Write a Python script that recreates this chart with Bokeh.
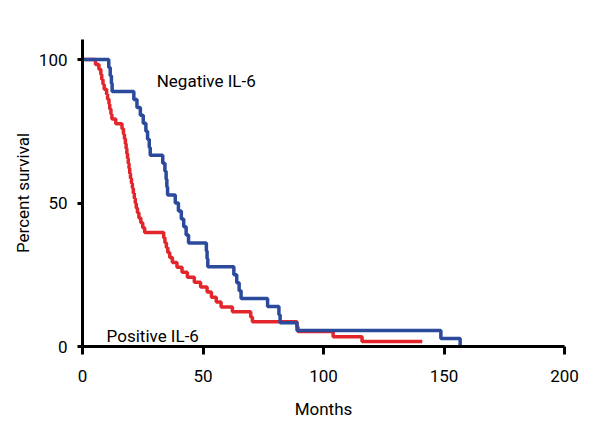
from bokeh.plotting import figure
from bokeh.models import Range1d, FixedTicker, Label
from bokeh.embed import file_html
from bokeh.resources import INLINE

# Kaplan-Meier estimates (months, percent survival)
neg_months = [0, 10.9, 11.5, 12.0, 12.3, 21.3, 22.6, 24.0, 25.2, 26.3, 27.0, 27.7, 28.1,
              33.3, 34.2, 34.7, 35.0, 35.3, 38.5, 39.8, 41.0, 42.0, 43.0, 44.0,
              51.4, 51.7, 52.0, 62.8, 64.0, 65.0, 65.8, 76.8, 81.5, 82.0, 89.0,
              148.7, 156.7]
neg_surv = [100, 97.2, 94.4, 91.7, 88.9, 86.1, 83.3, 80.6, 77.8, 75.0, 72.2, 69.4, 66.7,
            63.9, 61.1, 58.3, 55.6, 52.8, 50.0, 47.2, 44.4, 41.7, 38.9, 36.1,
            33.3, 30.6, 27.8, 25.0, 22.2, 19.4, 16.7, 13.9, 11.1, 8.3, 5.6,
            2.8, 0]

pos_months = [0, 5.4, 6.8, 7.6, 8.0, 8.5, 9.0, 10.0, 10.4, 11.0, 11.3, 11.8, 12.2, 13.8,
              16.4, 17.0, 17.4, 17.8, 18.1, 18.4, 18.7, 19.0, 19.3, 19.6, 19.9, 20.3,
              20.7, 21.1, 21.5, 21.9, 22.3, 22.8, 23.4, 24.2, 25.0, 25.8,
              33.7, 34.2, 34.8, 35.4, 36.2, 37.3, 39.2, 41.3, 43.5, 46.4, 49.0,
              51.7, 53.5, 55.5, 57.5, 62.2, 69.8, 70.5, 89.0, 89.4, 104.0, 116.0, 141.0]
pos_surv = [100, 98.3, 96.6, 94.8, 93.1, 91.4, 89.7, 87.9, 86.2, 84.5, 82.8, 81.0, 79.3, 77.6,
            75.9, 74.1, 72.4, 70.7, 69.0, 67.2, 65.5, 63.8, 62.1, 60.3, 58.6, 56.9,
            55.2, 53.4, 51.7, 50.0, 48.3, 46.6, 44.8, 43.1, 41.4, 39.7,
            37.9, 36.2, 34.5, 32.8, 31.0, 29.3, 27.6, 25.9, 24.1, 22.4, 20.7,
            19.0, 17.2, 15.5, 13.8, 12.1, 10.3, 8.6, 6.9, 5.2, 3.4, 1.7, 1.7]

x_ticks = [0, 50, 100, 150, 200]
y_ticks = [0, 50, 100]

FONT = "Roboto"
BLUE = "#2b4a9c"
RED = "#e3262b"

p = figure(width=592, height=432, output_backend="svg", toolbar_location=None,
           x_range=Range1d(0, 200), y_range=Range1d(0, 107),
           min_border_left=82, min_border_right=28, min_border_top=39, min_border_bottom=86)
p.outline_line_color = None
p.grid.visible = False
p.background_fill_color = "white"
p.border_fill_color = "white"

p.step(pos_months, pos_surv, mode="after", line_color=RED, line_width=3.5)
p.step(neg_months, neg_surv, mode="after", line_color=BLUE, line_width=3.5)

for ax in (p.xaxis[0], p.yaxis[0]):
    ax.axis_line_width = 3
    ax.axis_line_color = "black"
    ax.major_tick_line_width = 3
    ax.major_tick_line_color = "black"
    ax.major_tick_in = 0
    ax.minor_tick_line_color = None
    ax.major_label_text_font = FONT
    ax.major_label_text_font_size = "17px"
    ax.major_label_text_color = "black"
    ax.axis_label_text_font = FONT
    ax.axis_label_text_font_size = "17px"
    ax.axis_label_text_font_style = "normal"
    ax.axis_label_text_color = "black"

p.xaxis[0].ticker = FixedTicker(ticks=x_ticks)
p.yaxis[0].ticker = FixedTicker(ticks=y_ticks)
p.xaxis[0].major_tick_out = 8
p.yaxis[0].major_tick_out = 5
p.xaxis[0].major_label_standoff = 15
p.yaxis[0].major_label_standoff = 10
p.xaxis[0].axis_label = "Months"
p.xaxis[0].axis_label_standoff = 14
p.yaxis[0].axis_label = "Percent survival"
p.yaxis[0].axis_label_standoff = 3

p.add_layout(Label(x=30.8, y=92.7, text="Negative IL-6", text_font=FONT,
                   text_font_size="17px", text_color="black", text_baseline="alphabetic"))
p.add_layout(Label(x=10.0, y=3.8, text="Positive IL-6", text_font=FONT,
                   text_font_size="17px", text_color="black", text_baseline="alphabetic"))

open("out.html", "w").write(file_html(p, INLINE))
